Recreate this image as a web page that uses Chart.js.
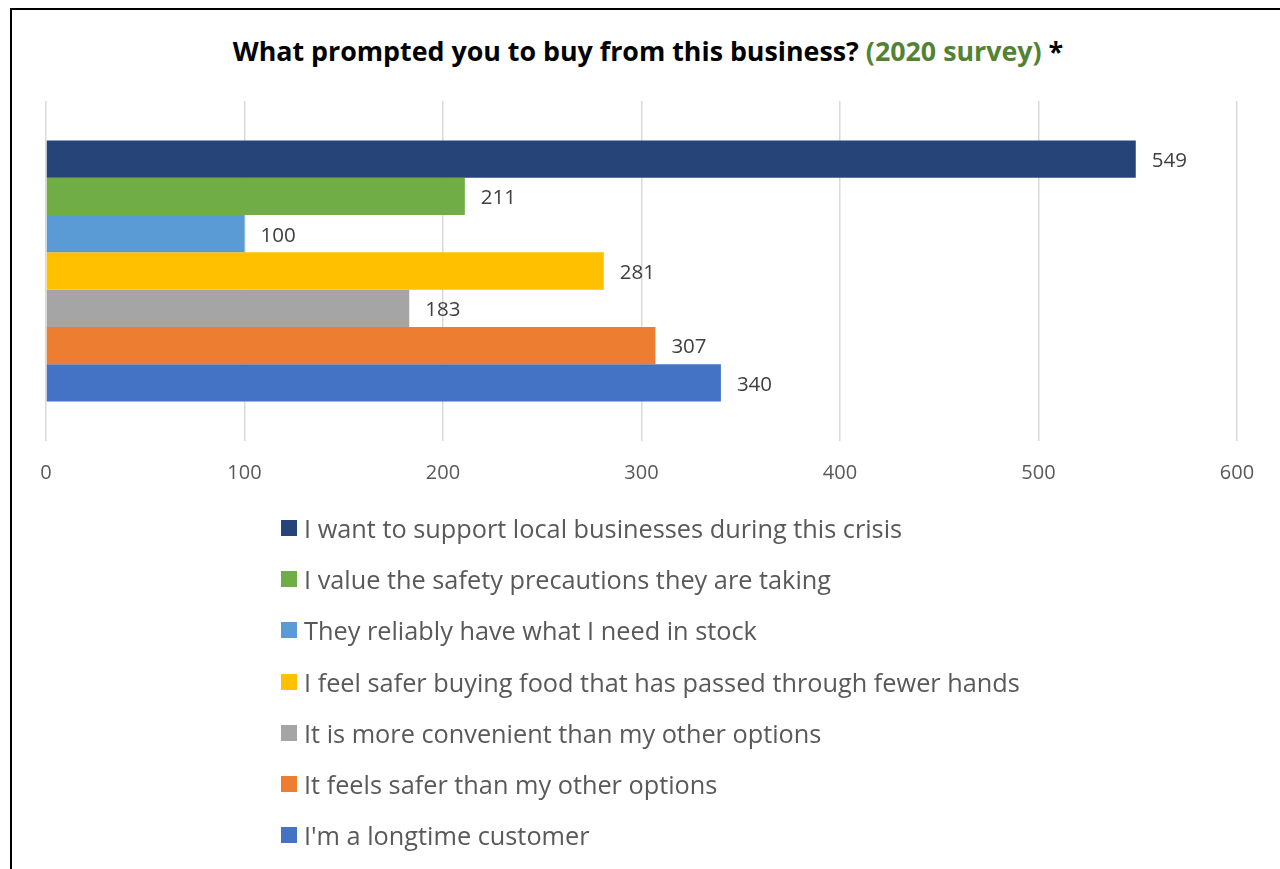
<!DOCTYPE html>
<html>
<head>
<meta charset="utf-8">
<script src="https://cdn.jsdelivr.net/npm/chart.js@4/dist/chart.umd.min.js"></script>
<style>
  html, body { margin: 0; padding: 0; background: #fff; }
  body { width: 1280px; height: 869px; position: relative; overflow: hidden; font-family: "Open Sans", sans-serif; }
  #frame { position: absolute; left: 10px; top: 8px; width: 1300px; height: 900px; border: 2px solid #000; box-sizing: border-box; }
  #titulo { position: absolute; left: 0; top: 32px; width: 1296px; text-align: center; font-weight: bold; font-size: 26.8px; color: #000; }
  #titulo .ano { color: #548235; }
  #grafico-box { position: absolute; left: 0; top: 0; width: 1280px; height: 869px; }
  #legenda { position: absolute; left: 281px; top: 502px; }
  .leg-item { display: flex; align-items: center; height: 51.3px; font-size: 25.3px; color: #595959; }
  .leg-box { width: 16px; height: 16px; margin-right: 7px; }
</style>
</head>
<body>
<div id="frame"></div>
<div id="titulo">What prompted you to buy from this business? <span class="ano">(2020 survey)</span> *</div>
<div id="grafico-box"><canvas id="grafico"></canvas></div>
<div id="legenda"></div>
<script>
const motivos = [
  "I want to support local businesses during this crisis",
  "I value the safety precautions they are taking",
  "They reliably have what I need in stock",
  "I feel safer buying food that has passed through fewer hands",
  "It is more convenient than my other options",
  "It feels safer than my other options",
  "I'm a longtime customer"
];
const respostas = [549, 211, 100, 281, 183, 307, 340];
const cores = ["#264478", "#70AD47", "#5B9BD5", "#FFC000", "#A5A5A5", "#ED7D31", "#4472C4"];
const ticksX = [0, 100, 200, 300, 400, 500, 600];

// valor ao lado de cada barra
const rotulosValor = {
  id: "rotulosValor",
  afterDatasetsDraw(chart) {
    const ctx = chart.ctx;
    ctx.save();
    ctx.font = "20.5px 'Open Sans'";
    ctx.fillStyle = "#404040";
    ctx.textBaseline = "middle";
    ctx.textAlign = "left";
    chart.data.datasets.forEach((ds, i) => {
      const barra = chart.getDatasetMeta(i).data[0];
      ctx.fillText(String(ds.data[0]), barra.x + 16, barra.y + 2);
    });
    ctx.restore();
  }
};

function montarLegenda() {
  const caixa = document.getElementById("legenda");
  motivos.forEach((texto, i) => {
    const item = document.createElement("div");
    item.className = "leg-item";
    const quadrado = document.createElement("span");
    quadrado.className = "leg-box";
    quadrado.style.background = cores[i];
    const rotulo = document.createElement("span");
    rotulo.textContent = texto;
    item.append(quadrado, rotulo);
    caixa.appendChild(item);
  });
}

const ctx = document.getElementById("grafico").getContext("2d");
new Chart(ctx, {
  type: "bar",
  data: {
    labels: [""],
    datasets: motivos.map((m, i) => ({
      label: m,
      data: [respostas[i]],
      backgroundColor: cores[i],
      categoryPercentage: 0.767,
      barPercentage: 1.0
    }))
  },
  options: {
    indexAxis: "y",
    responsive: true,
    maintainAspectRatio: false,
    animation: false,
    layout: { padding: { left: 46, right: 43, top: 101, bottom: 364 } },
    plugins: {
      legend: { display: false },
      title: { display: false },
      tooltip: { enabled: false }
    },
    scales: {
      x: {
        min: 0,
        max: 600,
        afterBuildTicks: (axis) => { axis.ticks = ticksX.map((v) => ({ value: v })); },
        grid: { color: "#d9d9d9", lineWidth: 1.5, drawTicks: false },
        border: { display: false },
        ticks: { color: "#595959", font: { family: "Open Sans", size: 20 }, padding: 20, maxRotation: 0 }
      },
      y: { display: false }
    }
  },
  plugins: [rotulosValor]
});

montarLegenda();
</script>
</body>
</html>
